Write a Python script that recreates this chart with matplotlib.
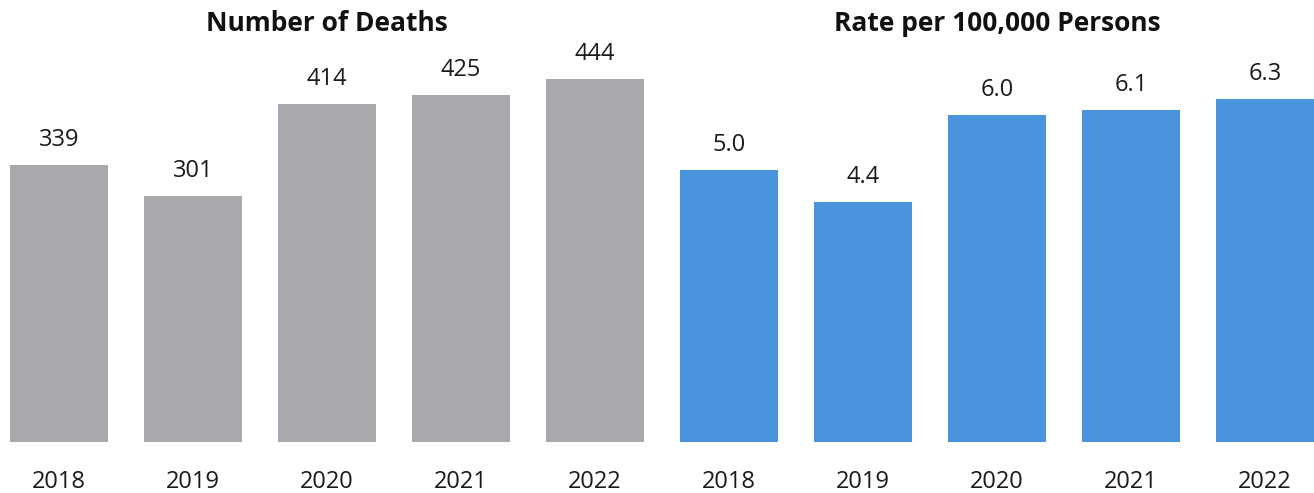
import matplotlib
matplotlib.use("Agg")
import matplotlib.pyplot as plt

years = ["2018", "2019", "2020", "2021", "2022"]
deaths = [339, 301, 414, 425, 444]
rates = [5.0, 4.4, 6.0, 6.1, 6.3]
titles = ["Number of Deaths", "Rate per 100,000 Persons"]

plt.rcParams['font.family'] = ['Open Sans', 'DejaVu Sans']

W, H = 1314, 493
fig = plt.figure(figsize=(W / 100, H / 100), dpi=100)

bottom_px = 442  # from top
step = 134.0
bar_w = 98 / step

def make_ax(x0, x1, first_center, ytop):
    ax = fig.add_axes([x0 / W, (H - bottom_px) / H, (x1 - x0) / W, bottom_px / H])
    ax.set_xlim((x0 - first_center) / step, (x1 - first_center) / step)
    ax.set_ylim(0, ytop)
    for s in ax.spines.values():
        s.set_visible(False)
    ax.set_yticks([])
    ax.tick_params(axis='x', length=0, pad=20, labelsize=17, labelcolor='#1a1a1a')
    ax.patch.set_alpha(0)
    return ax

ax1 = make_ax(0, 657, 59, 442 / 0.8174)
ax2 = make_ax(657, 1314, 729, 442 / 54.45)

x = list(range(len(years)))
ax1.bar(x, deaths, width=bar_w, color='#A8A9AD')
ax2.bar(x, rates, width=bar_w, color='#4A93DD')

for ax, vals, fmt in [(ax1, deaths, "{:d}"), (ax2, rates, "{:.1f}")]:
    ax.set_xticks(x)
    ax.set_xticklabels(years)
    for xi, v in zip(x, vals):
        ax.annotate(fmt.format(v), (xi, v), xytext=(0, 19), textcoords='offset pixels',
                    ha='center', va='baseline', fontsize=17, color='#1a1a1a')

fig.text(327 / W, 1 - 31 / H, titles[0], ha='center', va='baseline', fontsize=19,
         fontweight='bold', color='#111111')
fig.text(997 / W, 1 - 31 / H, titles[1], ha='center', va='baseline', fontsize=19,
         fontweight='bold', color='#111111')

fig.savefig("out.png", dpi=100)
